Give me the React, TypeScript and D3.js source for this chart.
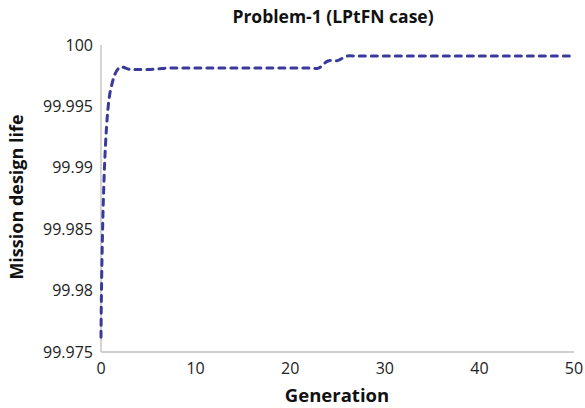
import React, { useEffect, useRef } from "react";
import * as d3 from "d3";

const generations = d3.range(0, 51);
const lifeValues = [
  99.9762, 99.9963, 99.99818, 99.99802, 99.998, 99.998, 99.99805,
  99.99812, 99.99812, 99.99812, 99.99812, 99.99812, 99.99812, 99.99812,
  99.99812, 99.99812, 99.99812, 99.99812, 99.99812, 99.99812, 99.99812,
  99.99812, 99.99812, 99.99812, 99.9987, 99.99873,
  99.9991, 99.9991, 99.9991, 99.9991, 99.9991, 99.9991, 99.9991, 99.9991,
  99.9991, 99.9991, 99.9991, 99.9991, 99.9991, 99.9991, 99.9991, 99.9991,
  99.9991, 99.9991, 99.9991, 99.9991, 99.9991, 99.9991, 99.9991, 99.9991,
  99.9991,
];
const xTicks = [0, 10, 20, 30, 40, 50];
const yTicks = [99.975, 99.98, 99.985, 99.99, 99.995, 100];
const yTickLabels = ["99.975", "99.98", "99.985", "99.99", "99.995", "100"];

const W = 585;
const H = 408;
const font = "'Open Sans', 'Liberation Sans', sans-serif";

const App = () => {
  const svgRef = useRef<SVGSVGElement>(null);

  useEffect(() => {
    const svg = d3.select(svgRef.current);
    svg.selectAll("*").remove();

    const x = d3.scaleLinear().domain([0, 50]).range([101, 574]);
    const y = d3.scaleLinear().domain([99.975, 100]).range([352, 45]);

    // axes lines
    svg
      .append("line")
      .attr("x1", x(0)).attr("x2", x(0))
      .attr("y1", y(100)).attr("y2", y(99.975))
      .attr("stroke", "#bfbfbf").attr("stroke-width", 1.3);
    svg
      .append("line")
      .attr("x1", x(0)).attr("x2", x(50))
      .attr("y1", y(99.975)).attr("y2", y(99.975))
      .attr("stroke", "#bfbfbf").attr("stroke-width", 1.3);

    svg
      .append("g")
      .selectAll("text")
      .data(yTicks)
      .join("text")
      .attr("x", 93)
      .attr("y", (d) => y(d))
      .attr("dy", "0.35em")
      .attr("text-anchor", "end")
      .attr("font-family", font)
      .attr("font-size", 16)
      .attr("fill", "#222")
      .text((d, i) => yTickLabels[i]);

    svg
      .append("g")
      .selectAll("text")
      .data(xTicks)
      .join("text")
      .attr("x", (d) => x(d))
      .attr("y", 374)
      .attr("text-anchor", "middle")
      .attr("font-family", font)
      .attr("font-size", 16)
      .attr("fill", "#222")
      .text((d) => String(d));

    const line = d3
      .line<number>()
      .x((d, i) => x(generations[i]))
      .y((d) => y(d))
      .curve(d3.curveCatmullRom.alpha(0.5));

    svg
      .append("path")
      .datum(lifeValues)
      .attr("d", line)
      .attr("fill", "none")
      .attr("stroke", "#3a3a9c")
      .attr("stroke-width", 3)
      .attr("stroke-dasharray", "6 6")
      .attr("stroke-linecap", "round");

    svg
      .append("text")
      .attr("x", 333)
      .attr("y", 23)
      .attr("text-anchor", "middle")
      .attr("font-family", font)
      .attr("font-size", 17.5)
      .attr("font-weight", "bold")
      .attr("fill", "#111")
      .text("Problem-1 (LPtFN case)");

    svg
      .append("text")
      .attr("x", 337)
      .attr("y", 402)
      .attr("text-anchor", "middle")
      .attr("font-family", font)
      .attr("font-size", 18.5)
      .attr("font-weight", "bold")
      .attr("fill", "#111")
      .text("Generation");

    svg
      .append("text")
      .attr("transform", "translate(23,197) rotate(-90)")
      .attr("text-anchor", "middle")
      .attr("font-family", font)
      .attr("font-size", 18)
      .attr("font-weight", "bold")
      .attr("fill", "#111")
      .text("Mission design life");
  }, []);

  return (
    <svg
      ref={svgRef}
      width={W}
      height={H}
      style={{ position: "absolute", left: 0, top: 0, background: "#fff" }}
    />
  );
};

export default App;
